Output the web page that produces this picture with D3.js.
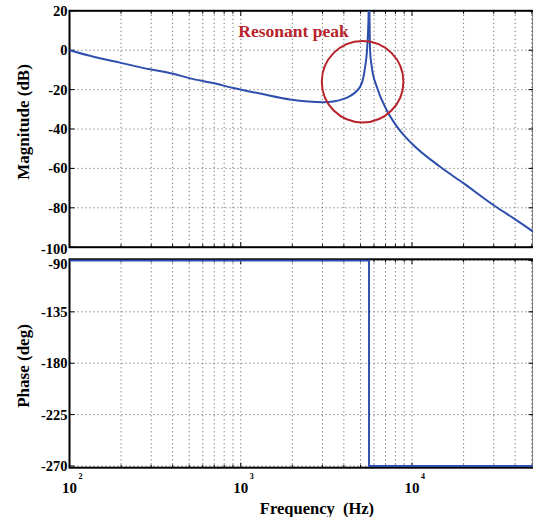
<!DOCTYPE html>
<html>
<head>
<meta charset="utf-8">
<script src="https://cdn.jsdelivr.net/npm/d3@7"></script>
<style>
  html, body { margin: 0; padding: 0; background: #fff; overflow: hidden; }
  svg { display: block; font-family: "Liberation Serif", "Times New Roman", serif; font-weight: bold; }
</style>
</head>
<body>
<svg id="bode" width="533" height="517"></svg>
<script>
// magnitude curve
var freqHz = [100, 138, 197, 295, 404, 506, 692, 905, 1297, 1941, 3038, 3474, 4064, 4977, 5326, 5490, 5575, 5610, 5645, 5688, 5820, 6227, 7122, 8329, 10000, 14590, 19950, 30580, 39460, 51200];
var magDb  = [0, -3.3, -6.3, -9.7, -12, -14.3, -16.7, -19.2, -22, -25, -26.4, -26, -24.5, -18.6, -8.4, 3.4, 18, 40, 18, 0, -8.5, -18.6, -30.5, -39.8, -47.5, -59.2, -67.5, -79.2, -85.5, -92.2];
// phase curve
var phaseFreq = [100, 5610, 5610, 51200];
var phaseDeg  = [-90, -90, -270, -270];

var magTicks = [20, 0, -20, -40, -60, -80, -100];
var phaseTicks = [-90, -135, -180, -225, -270];
var decades = [100, 1000, 10000];
var decadeExp = ['2', '3', '4'];

var peakLabel = 'Resonant peak';
var peakAt = [5145, -16];   // circle centre, Hz / dB
var labelAt = [968, 6.7];

(function () {
    var svg = d3.select('#bode');
    var left = 69.5, right = 533.5;
    var blue = '#2f4fae', red = '#b8232b';

    var x = d3.scaleLog().domain([100, 51200]).range([left, right]);
    var yMag = d3.scaleLinear().domain([-100, 20]).range([247.2, 10.8]);
    var yPh = d3.scaleLinear().domain([-271.5, -89]).range([467.7, 259.3]);

    // every 1..9 x decade inside the domain
    var minor = [];
    decades.forEach(function (d) {
        d3.range(1, 10).forEach(function (m) {
            if (d * m <= x.domain()[1]) minor.push(d * m);
        });
    });

    function panel(y, ticks, id, gridTicks, labelShift) {
        var top = y.range()[1], bot = y.range()[0];
        var g = svg.append('g');
        g.append('clipPath').attr('id', id).append('rect')
            .attr('x', left).attr('y', top).attr('width', right - left).attr('height', bot - top);

        // dotted grid
        g.selectAll('.vg').data(minor.filter(function (v) { return v > 100; })).enter().append('line')
            .attr('x1', d => x(d)).attr('x2', d => x(d)).attr('y1', top).attr('y2', bot)
            .attr('stroke', '#555').attr('stroke-width', 1).attr('stroke-dasharray', '1,3');
        g.selectAll('.hg').data(gridTicks).enter().append('line')
            .attr('x1', left).attr('x2', right).attr('y1', d => y(d)).attr('y2', d => y(d))
            .attr('stroke', '#555').attr('stroke-width', 1).attr('stroke-dasharray', '1,3');

        // inward ticks
        g.selectAll('.tb').data(minor).enter().append('line')
            .attr('x1', d => x(d)).attr('x2', d => x(d))
            .attr('y1', bot).attr('y2', d => bot - (decades.indexOf(d) >= 0 ? 5 : 3))
            .attr('stroke', '#000');
        g.selectAll('.tt').data(minor).enter().append('line')
            .attr('x1', d => x(d)).attr('x2', d => x(d))
            .attr('y1', top).attr('y2', d => top + (decades.indexOf(d) >= 0 ? 5 : 3))
            .attr('stroke', '#000');
        g.selectAll('.tl').data(ticks).enter().append('line')
            .attr('x1', left).attr('x2', left + 5).attr('y1', d => y(d)).attr('y2', d => y(d))
            .attr('stroke', '#000');
        g.selectAll('.tr').data(ticks).enter().append('line')
            .attr('x1', right - 5).attr('x2', right).attr('y1', d => y(d)).attr('y2', d => y(d))
            .attr('stroke', '#000');

        // box
        g.append('rect').attr('x', left).attr('y', top).attr('width', right - left).attr('height', bot - top)
            .attr('fill', 'none').attr('stroke', '#000').attr('stroke-width', 2);

        // y tick labels
        g.selectAll('.yl').data(ticks).enter().append('text')
            .attr('x', left - 2).attr('y', d => y(d) + labelShift(d)).attr('dy', '0.35em')
            .attr('text-anchor', 'end').attr('font-size', 14.5).text(d => d);
        return g;
    }

    var gm = panel(yMag, magTicks, 'clipMag', magTicks.slice(1, -1), d => d === -100 ? 1.5 : 0);
    var gp = panel(yPh, phaseTicks, 'clipPh', phaseTicks, d => d === -90 ? 3 : 0);

    var magLine = d3.line().x((d, i) => x(freqHz[i])).y(d => yMag(d)).curve(d3.curveMonotoneX);
    gm.append('path').datum(magDb).attr('d', magLine).attr('clip-path', 'url(#clipMag)')
        .attr('fill', 'none').attr('stroke', blue).attr('stroke-width', 2);

    var phLine = d3.line().x((d, i) => x(phaseFreq[i])).y(d => yPh(d));
    gp.append('path').datum(phaseDeg).attr('d', phLine).attr('clip-path', 'url(#clipPh)')
        .attr('fill', 'none').attr('stroke', blue).attr('stroke-width', 2);

    // annotation
    gm.append('circle').attr('cx', x(peakAt[0])).attr('cy', yMag(peakAt[1])).attr('r', 40.8)
        .attr('fill', 'none').attr('stroke', red).attr('stroke-width', 2);
    gm.append('text').attr('x', x(labelAt[0])).attr('y', yMag(labelAt[1]))
        .attr('fill', red).attr('font-size', 17.5).text(peakLabel);

    // x tick labels 10^n
    var xl = svg.selectAll('.xl').data(decades).enter().append('g');
    xl.append('text').attr('x', d => x(d)).attr('y', 493).attr('text-anchor', 'middle')
        .attr('font-size', 15).text('10');
    xl.append('text').attr('x', d => x(d) + 9).attr('y', 479).attr('font-size', 8)
        .text((d, i) => decadeExp[i]);

    // axis titles
    svg.append('text').attr('transform', 'translate(29,122) rotate(-90)').attr('text-anchor', 'middle')
        .attr('font-size', 17).text('Magnitude (dB)');
    svg.append('text').attr('transform', 'translate(29,366) rotate(-90)').attr('text-anchor', 'middle')
        .attr('font-size', 17).text('Phase (deg)');
    svg.append('text').attr('x', 317).attr('y', 514).attr('text-anchor', 'middle')
        .attr('font-size', 16.5).style('white-space', 'pre').text('Frequency  (Hz)');
})();
</script>
</body>
</html>
